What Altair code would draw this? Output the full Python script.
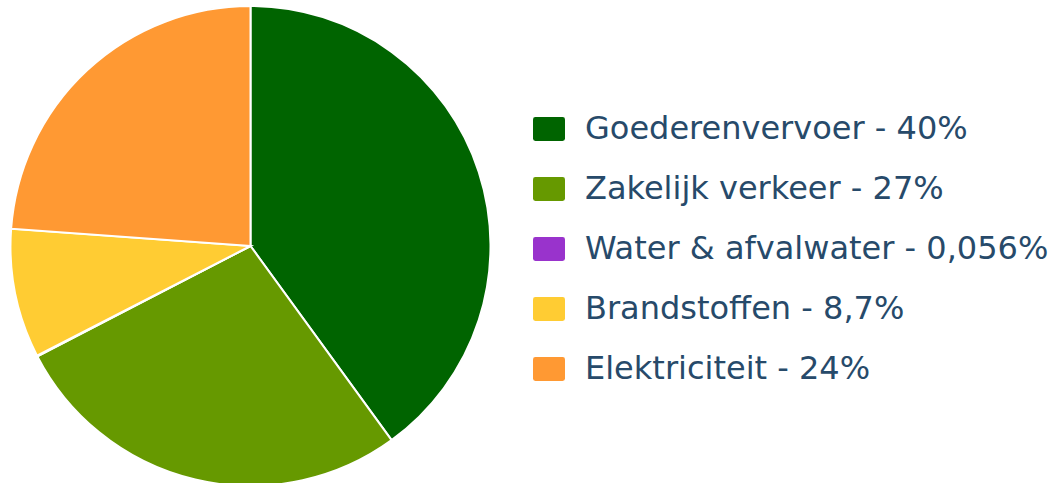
import altair as alt
import pandas as pd

categories = ["Goederenvervoer", "Zakelijk verkeer", "Water & afvalwater", "Brandstoffen", "Elektriciteit"]
values = [40.0, 27.4, 0.056, 8.7, 23.85]
value_labels = ["40%", "27%", "0,056%", "8,7%", "24%"]
colors = ["#006400", "#669900", "#9933cc", "#ffcc33", "#ff9933"]

labels = [f"{c} - {v}" for c, v in zip(categories, value_labels)]
df = pd.DataFrame({"label": labels, "value": values, "order": list(range(len(labels)))})

sym = ("M-0.85,-0.75H0.85Q1,-0.75 1,-0.6V0.6Q1,0.75 0.85,0.75H-0.85"
       "Q-1,0.75 -1,0.6V-0.6Q-1,-0.75 -0.85,-0.75Z")

chart = alt.Chart(df).mark_arc(outerRadius=240, stroke="white", strokeWidth=2).encode(
    theta=alt.Theta("value:Q", stack=True),
    order=alt.Order("order:Q"),
    x=alt.value(250.5),
    y=alt.value(246),
    color=alt.Color(
        "label:N",
        scale=alt.Scale(domain=labels, range=colors),
        legend=alt.Legend(
            title=None,
            orient="none",
            legendX=533,
            legendY=113,
            symbolType=sym,
            symbolSize=1024,
            symbolStrokeWidth=0,
            symbolOpacity=1,
            labelFont="DejaVu Sans",
            labelFontSize=32,
            labelColor="#274a6a",
            labelOffset=20,
            rowPadding=28,
            labelLimit=700,
        ),
    ),
).properties(width=1055, height=483, padding=0, autosize="none").configure_view(stroke=None)

chart.save("out.html", embed_options={"renderer": "svg", "actions": False})
